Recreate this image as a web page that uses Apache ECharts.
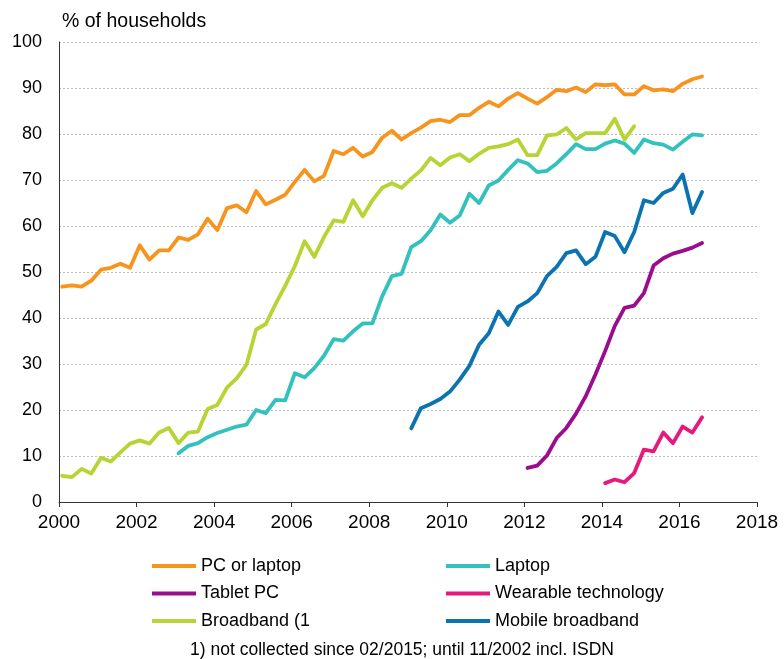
<!DOCTYPE html>
<html>
<head>
<meta charset="utf-8">
<script src="https://cdn.jsdelivr.net/npm/echarts@6/dist/echarts.min.js"></script>
<style>
html,body{margin:0;padding:0;background:#fff;}
#chart{width:784px;height:659px;}
</style>
</head>
<body>
<div id="chart"></div>
<script>
// Survey rounds are quarterly (Feb, May, Aug, Nov)
const pcOrLaptopStart = [2000, 2];
const pcOrLaptop = [46.8,47.1,46.8,48.1, 50.5,50.9,51.8,50.9, 55.8,52.7,54.7,54.7, 57.5,57.0,58.2,61.6,
  59.1,63.9,64.5,63.0, 67.6,64.7,65.7,66.8, 69.6,72.2,69.7,70.9, 76.3,75.6,77.0,75.1,
  76.1,79.2,80.7,78.8, 80.2,81.4,82.8,83.1, 82.6,84.1,84.1,85.7, 87.0,86.0,87.7,88.9,
  87.7,86.6,88.0,89.6, 89.3,90.1,89.1,90.8, 90.6,90.8,88.6,88.6, 90.4,89.5,89.7,89.3,
  90.9,91.9,92.5];

const laptopStart = [2003, 2];
const laptop = [10.6,12.2,12.8,14.1, 15.0,15.7,16.4,16.8, 20.0,19.3,22.2,22.1, 28.0,27.1,29.1,31.8,
  35.4,35.1,37.1,38.8, 38.9,44.7,49.1,49.6, 55.4,56.7,59.1,62.5, 60.7,62.3,67.0,65.0,
  68.8,69.9,72.2,74.3, 73.6,71.7,72.0,73.6, 75.6,77.8,76.7,76.7, 77.9,78.6,77.9,75.9,
  78.8,78.0,77.7,76.6, 78.3,79.9,79.7];

const tabletStart = [2012, 2];
const tablet = [7.4,7.9,10.1,13.9, 16.1,19.2,23.0,27.7, 32.8,38.3,42.2,42.7, 45.4,51.4,53.0,54.0,
  54.6,55.3,56.3];

const wearableStart = [2014, 2];
const wearable = [4.1,4.9,4.3,6.3, 11.4,11.0,15.1,12.8, 16.4,15.1,18.4];

const broadbandStart = [2000, 2];
const broadband = [5.7,5.4,7.2,6.2, 9.6,8.8,10.8,12.7, 13.4,12.7,15.1,16.1, 12.8,15.1,15.3,20.2,
  21.1,24.9,26.9,29.8, 37.5,38.7,43.0,47.0, 51.3,56.7,53.3,57.6, 61.2,60.9,65.6,62.1,
  65.6,68.3,69.3,68.3, 70.3,72.1,74.8,73.2, 74.9,75.6,74.1,75.7, 77.0,77.3,77.8,78.8,
  75.4,75.4,79.7,79.9, 81.3,78.8,80.2,80.2, 80.2,83.3,78.8,81.7];

const mobileStart = [2009, 2];
const mobile = [16.0,20.4,21.3,22.4, 24.0,26.6,29.6,34.2, 36.7,41.4,38.5,42.4, 43.6,45.4,49.1,51.1,
  54.1,54.7,51.7,53.3, 58.7,57.8,54.3,58.7, 65.6,65.0,67.2,68.1, 71.2,62.8,67.4];

const seriesNames = ['PC or laptop','Laptop','Tablet PC','Wearable technology','Broadband (1','Mobile broadband'];
const xTicks = [2000,2002,2004,2006,2008,2010,2012,2014,2016,2018];
const yTicks = [0,10,20,30,40,50,60,70,80,90,100];
const yTitle = '% of households';
const footnote = '1) not collected since 02/2015; until 11/2002 incl. ISDN';

function pairs(start, values) {
  return values.map((v, i) => {
    const m = start[1] - 1 + 3 * i;
    const yr = start[0] + Math.floor(m / 12);
    const mo = m % 12;
    return [yr + mo / 12, v];
  });
}

const colors = ['#F7941D','#33C1BD','#9C0C8E','#E6197D','#B6D433','#0A73B0'];
const datas = [
  pairs(pcOrLaptopStart, pcOrLaptop),
  pairs(laptopStart, laptop),
  pairs(tabletStart, tablet),
  pairs(wearableStart, wearable),
  pairs(broadbandStart, broadband),
  pairs(mobileStart, mobile)
];

const font = "'Liberation Sans', Arial, sans-serif";
const chart = echarts.init(document.getElementById('chart'), null, {renderer: 'canvas'});

const legendCommon = {
  orient: 'vertical', top: 557, padding: 0, itemWidth: 44, itemHeight: 4, itemGap: 9.5, icon: 'rect',
  textStyle: {fontSize: 18, color: '#000', fontFamily: font, lineHeight: 18}
};

chart.setOption({
  animation: false,
  grid: {left: 59, right: 27, top: 42, bottom: 157, containLabel: false},
  xAxis: {
    type: 'value', min: xTicks[0], max: xTicks[xTicks.length - 1], interval: 2,
    axisLine: {show: true, lineStyle: {color: '#333', width: 1}},
    axisTick: {show: true, length: 5, lineStyle: {color: '#333'}},
    axisLabel: {fontSize: 19, color: '#000', fontFamily: font, margin: 11, formatter: v => String(v)},
    splitLine: {show: false}
  },
  yAxis: {
    type: 'value', min: yTicks[0], max: yTicks[yTicks.length - 1], interval: 10,
    axisLine: {show: true, lineStyle: {color: '#333', width: 1}},
    axisTick: {show: false},
    axisLabel: {fontSize: 18, color: '#000', fontFamily: font, margin: 17},
    splitLine: {show: true, lineStyle: {color: '#bcbcc4', type: [2, 2], width: 1}}
  },
  legend: [
    Object.assign({}, legendCommon, {left: 152, data: [seriesNames[0], seriesNames[2], seriesNames[4]]}),
    Object.assign({}, legendCommon, {left: 446, data: [seriesNames[1], seriesNames[3], seriesNames[5]]})
  ],
  graphic: [
    {type: 'text', left: 62, top: 12, style: {text: yTitle, font: '19.5px ' + font, fill: '#000'}},
    {type: 'text', x: 402, y: 650, style: {text: footnote, font: '17.5px ' + font, fill: '#000', textAlign: 'center', textVerticalAlign: 'middle'}}
  ],
  series: seriesNames.map((name, i) => ({
    name: name, type: 'line', data: datas[i], showSymbol: false, symbol: 'none',
    color: colors[i],
    lineStyle: {color: colors[i], width: 3.8, join: 'round', cap: 'round'},
    itemStyle: {color: colors[i]}
  }))
});
</script>
</body>
</html>
